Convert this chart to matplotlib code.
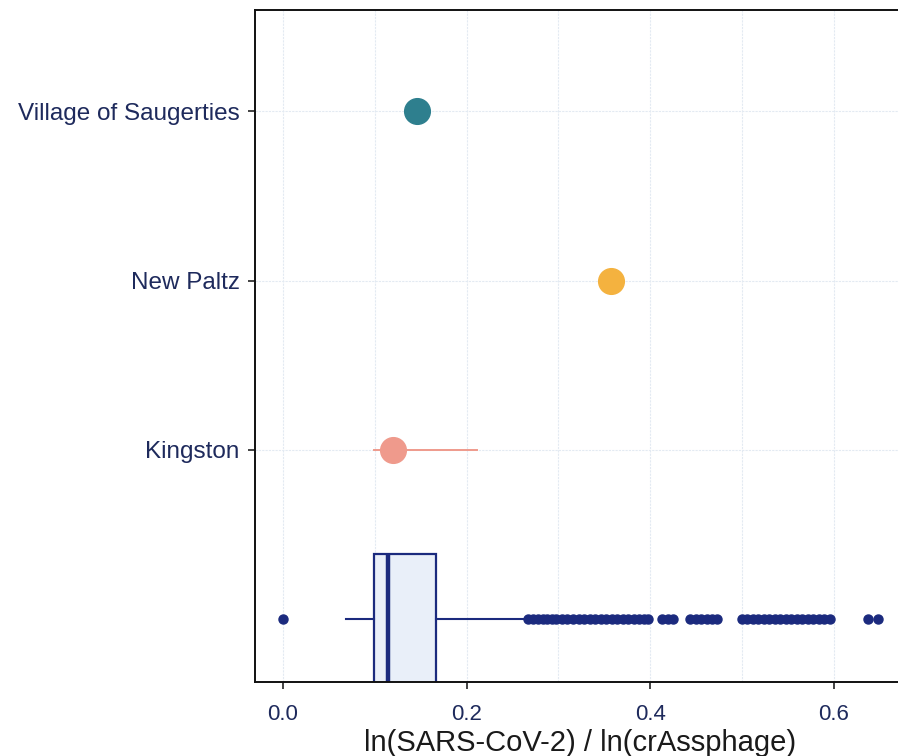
import numpy as np
import matplotlib.pyplot as plt

# site medians (dots) and the spread line for Kingston
sites = ['Kingston', 'New Paltz', 'Village of Saugerties']
site_vals = [0.120, 0.357, 0.146]
site_colors = ['#ef9a8c', '#f4b23f', '#2e7f8e']
kingston_range = [0.099, 0.211]

# overall boxplot summary
box_q1 = 0.0995
box_med = 0.114
box_q3 = 0.167
box_whislo = 0.069
box_whishi = 0.262
box_fliers = [0.0,
              0.267, 0.272, 0.278, 0.283, 0.288, 0.293, 0.298, 0.304, 0.310,
              0.316, 0.322, 0.328, 0.334, 0.340, 0.346, 0.352, 0.358, 0.364,
              0.370, 0.376, 0.382, 0.388, 0.393, 0.398,
              0.413, 0.419, 0.425,
              0.444, 0.450, 0.456, 0.462, 0.468, 0.473,
              0.500, 0.506, 0.512, 0.518, 0.524, 0.530, 0.536, 0.542, 0.548,
              0.554, 0.560, 0.566, 0.572, 0.578, 0.584, 0.590, 0.596,
              0.638, 0.648]

navy = '#1b2a7e'

plt.rcParams['font.family'] = ['Liberation Sans', 'DejaVu Sans']
fig = plt.figure(figsize=(8.98, 7.56), dpi=100)
ax = fig.add_axes([0.284, 0.098, 0.724, 0.889])

# boxplot drawn from its summary
stats = [dict(med=box_med, q1=box_q1, q3=box_q3, whislo=box_whislo,
              whishi=box_whishi, fliers=box_fliers)]
ax.bxp(stats, positions=[0], widths=0.77, vert=False, showcaps=False,
       patch_artist=True, manage_ticks=False,
       boxprops=dict(facecolor='#e9eff9', edgecolor=navy, linewidth=1.6),
       medianprops=dict(color=navy, linewidth=3.2),
       whiskerprops=dict(color=navy, linewidth=1.5),
       flierprops=dict(marker='o', markerfacecolor=navy, markeredgecolor=navy,
                       markersize=6.5))

# Kingston spread
ax.plot(kingston_range, [1, 1], color=site_colors[0], linewidth=1.4, zorder=3)

for i, (v, c) in enumerate(zip(site_vals, site_colors)):
    ax.plot([v], [i + 1], marker='o', markersize=18.5, color=c, linestyle='none', zorder=4)

ax.set_xlim(-0.0305, 0.678)
ax.set_ylim(-0.37, 3.6)

ax.set_xticks([0.0, 0.2, 0.4, 0.6])
ax.set_xticks([0.1, 0.3, 0.5], minor=True)
ax.set_xticklabels(['0.0', '0.2', '0.4', '0.6'])
ax.set_yticks([1, 2, 3])
ax.set_yticklabels(sites)
ax.grid(True, which='both', color='#e3eaf2', linewidth=0.8, linestyle=(0, (2, 1)))
ax.tick_params(axis='x', which='minor', length=0)
ax.tick_params(axis='both', which='major', length=5, width=1.2, color='#222222',
               labelcolor='#1e2a5c')
ax.tick_params(axis='x', labelsize=16, pad=11)
ax.tick_params(axis='y', labelsize=17.5, pad=6)
ax.set_axisbelow(True)

for sp in ax.spines.values():
    sp.set_linewidth(1.4)
    sp.set_color('#111111')

ax.set_xlabel('ln(SARS-CoV-2) / ln(crAssphage)', fontsize=21, color='#1a1a1a', labelpad=3)

fig.savefig('out.png', dpi=100)
